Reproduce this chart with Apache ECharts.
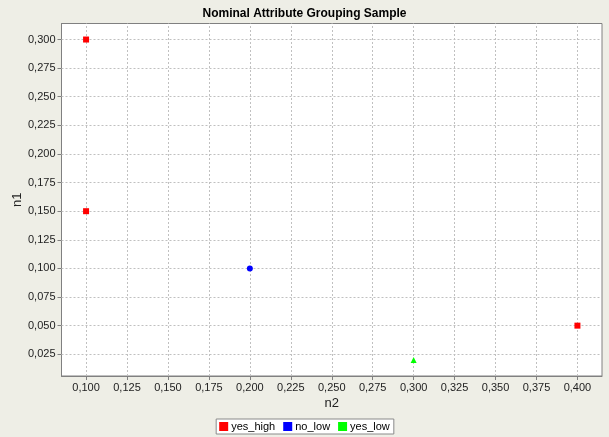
<!DOCTYPE html>
<html>
<head>
<meta charset="utf-8">
<script src="https://cdn.jsdelivr.net/npm/echarts@6/dist/echarts.min.js"></script>
<style>
  html, body { margin: 0; padding: 0; background: #eeeee6; }
  #chart { width: 609px; height: 437px; }
</style>
</head>
<body>
<div id="chart"></div>
<script>
// series values [n2, n1]
const yesHigh = [[0.1, 0.3], [0.1, 0.15], [0.4, 0.05]];
const noLow = [[0.2, 0.1]];
const yesLow = [[0.3, 0.02]];

// tick labels
const xTicks = [0.1, 0.125, 0.15, 0.175, 0.2, 0.225, 0.25, 0.275, 0.3, 0.325, 0.35, 0.375, 0.4];
const yTicks = [0.025, 0.05, 0.075, 0.1, 0.125, 0.15, 0.175, 0.2, 0.225, 0.25, 0.275, 0.3];

const font = 'Liberation Sans, Arial, sans-serif';
const fmt = v => v.toFixed(3).replace('.', ',');

const chart = echarts.init(document.getElementById('chart'));

// grid lines on the tick values (splitLine ignores customValues)
const gridLines = xTicks.map(v => ({ xAxis: v })).concat(yTicks.map(v => ({ yAxis: v })));

let option = {
  backgroundColor: '#eeeee6',
  animation: false,
  title: {
    text: 'Nominal Attribute Grouping Sample',
    left: 'center',
    top: 3,
    textStyle: { fontFamily: font, fontSize: 12, fontWeight: 'bold', color: '#000' }
  },
  grid: {
    left: 61.5, top: 23.5, right: 7, bottom: 61,
    containLabel: false,
    outerBoundsMode: 'none',
    show: true, backgroundColor: '#fff', borderColor: '#808080', borderWidth: 1
  },
  legend: {
    left: 'center',
    top: 419,
    itemWidth: 9,
    itemHeight: 9,
    itemGap: 8,
    padding: [2, 4, 2, 3],
    backgroundColor: '#fff',
    borderColor: '#8a8a8a',
    borderWidth: 1,
    borderRadius: 0,
    textStyle: { fontFamily: font, fontSize: 11, color: '#000', padding: [0, 0, 0, -2] },
    data: [
      { name: 'yes_high', icon: 'rect' },
      { name: 'no_low', icon: 'rect' },
      { name: 'yes_low', icon: 'rect' }
    ]
  },
  xAxis: {
    type: 'value',
    min: 0.085,
    max: 0.415,
    name: 'n2',
    nameLocation: 'middle',
    nameGap: 21,
    nameMoveOverlap: false,
    nameTextStyle: { fontFamily: font, fontSize: 13, color: '#222' },
    axisLine: { show: true, lineStyle: { color: '#808080' } },
    axisTick: { show: true, length: 4, customValues: xTicks, lineStyle: { color: '#808080' } },
    axisLabel: { customValues: xTicks, formatter: fmt, margin: 6, fontFamily: font, fontSize: 11, color: '#222' },
    splitLine: { show: false }
  },
  yAxis: {
    type: 'value',
    min: 0.006,
    max: 0.314,
    name: 'n1',
    nameLocation: 'middle',
    nameGap: 38,
    nameMoveOverlap: false,
    nameTextStyle: { fontFamily: font, fontSize: 13, color: '#222' },
    axisLine: { show: true, lineStyle: { color: '#808080' } },
    axisTick: { show: true, length: 4, customValues: yTicks, lineStyle: { color: '#808080' } },
    axisLabel: { customValues: yTicks, formatter: fmt, margin: 6, fontFamily: font, fontSize: 11, color: '#222' },
    splitLine: { show: false }
  },
  series: [
    {
      name: 'grid', type: 'scatter', data: [], z: 1, silent: true,
      markLine: {
        silent: true, symbol: 'none', animation: false, z: 1,
        precision: 4,
        label: { show: false },
        emphasis: { disabled: true },
        lineStyle: { color: '#c0c0c0', type: [2, 2], width: 1 },
        data: gridLines
      }
    },
    { name: 'yes_high', type: 'scatter', symbol: 'rect', symbolSize: 6, z: 3, itemStyle: { color: '#ff0000', opacity: 1 }, data: yesHigh },
    { name: 'no_low', type: 'scatter', symbol: 'circle', symbolSize: 6, z: 3, itemStyle: { color: '#0000ff', opacity: 1 }, data: noLow },
    { name: 'yes_low', type: 'scatter', symbol: 'triangle', symbolSize: 6, z: 3, itemStyle: { color: '#00ff00', opacity: 1 }, data: yesLow }
  ]
};
chart.setOption(option);
</script>
</body>
</html>
